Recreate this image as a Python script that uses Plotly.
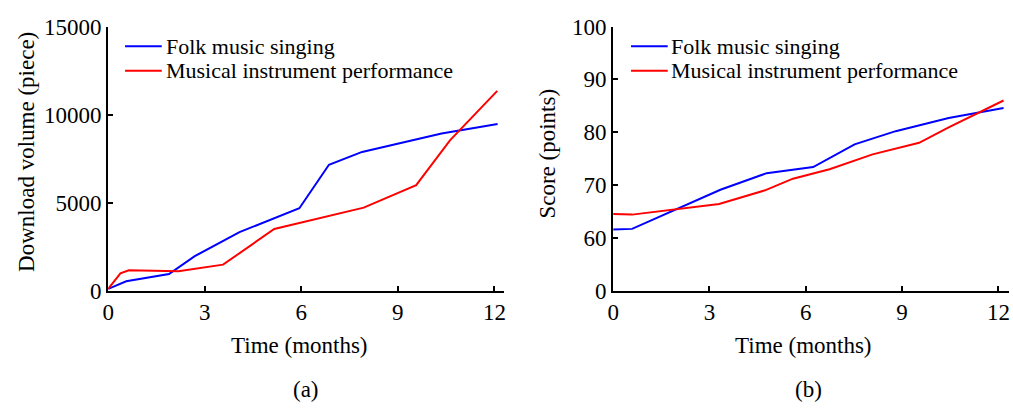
import plotly.graph_objects as go

# Panel (a): download volume (piece)
a_folk_x = [0, 0.56, 1.89, 2.69, 4.08, 5.94, 6.86, 7.89, 10.36, 12.1]
a_folk_y = [100, 534, 944, 1958, 3326, 4680, 7150, 7881, 8932, 9466]
a_inst_x = [0, 0.38, 0.64, 2.18, 3.57, 5.16, 7.94, 9.57, 10.62, 12.09]
a_inst_y = [100, 980, 1158, 1105, 1478, 3506, 4717, 5998, 8538, 11350]

# Panel (b): score (points)
b_folk_x = [0, 0.59, 3.34, 4.78, 6.23, 7.52, 8.8, 10.45, 12.16]
b_folk_y = [61.6, 61.7, 69.1, 72.25, 73.4, 77.7, 80.2, 82.7, 84.6]
b_inst_x = [0, 0.59, 3.3, 4.73, 5.6, 6.74, 8.08, 9.53, 10.45, 12.16]
b_inst_y = [64.5, 64.4, 66.4, 69.0, 71.2, 73.0, 75.8, 78.0, 80.9, 86.0]

x_ticks = [0, 3, 6, 9, 12]
a_y_tickvals = [0, 5000, 10000, 15000]
a_y_ticktext = ["0", "5000", "10000", "15000"]
b_y_tickvals = [50, 60, 70, 80, 90, 100]
b_y_ticktext = ["0", "60", "70", "80", "90", "100"]

names = ["Folk music singing", "Musical instrument performance"]
colors = ["#0000FF", "#FF0000"]
FONT = "Liberation Serif"
FS = 23
LFS = 22

W, H = 1013, 416

fig = go.Figure()
for i, (xs, ys) in enumerate([(a_folk_x, a_folk_y), (a_inst_x, a_inst_y)]):
    fig.add_trace(go.Scatter(x=xs, y=ys, mode="lines", name=names[i], showlegend=False,
                             line=dict(color=colors[i], width=2), xaxis="x", yaxis="y"))
for i, (xs, ys) in enumerate([(b_folk_x, b_folk_y), (b_inst_x, b_inst_y)]):
    fig.add_trace(go.Scatter(x=xs, y=ys, mode="lines", name=names[i], showlegend=False,
                             line=dict(color=colors[i], width=2), xaxis="x2", yaxis="y2"))

def px_x(p):
    return p / W

def px_y(p):
    return 1 - p / H

axis_common = dict(showgrid=False, zeroline=False, showline=True, linecolor="black", linewidth=2,
                   ticks="inside", ticklen=5, tickwidth=1.5, tickcolor="black",
                   tickfont=dict(family=FONT, size=FS, color="black"))

fig.update_layout(
    width=W, height=H,
    margin=dict(l=0, r=0, t=0, b=0),
    paper_bgcolor="white", plot_bgcolor="white",
    font=dict(family=FONT, size=FS, color="black"),
    showlegend=False,
    xaxis=dict(domain=[px_x(103), px_x(502)], range=[0, 12.3], tickvals=x_ticks,
               anchor="y", **axis_common),
    yaxis=dict(domain=[px_y(296.5), px_y(15.5)], range=[0, 15000], tickvals=a_y_tickvals,
               ticktext=a_y_ticktext, anchor="x", **axis_common),
    xaxis2=dict(domain=[px_x(612), px_x(1011)], range=[0, 12.33], tickvals=x_ticks,
                anchor="y2", **axis_common),
    yaxis2=dict(domain=[px_y(296.5), px_y(15.5)], range=[50, 100], tickvals=b_y_tickvals,
                ticktext=b_y_ticktext, anchor="x2", **axis_common),
)

# Legends (line sample + label) for each panel
legend_rows_y = [36.5, 62.5]
for line_x0, text_x in [(120, 160), (630, 669)]:
    for i, name in enumerate(names):
        yy = px_y(legend_rows_y[i])
        fig.add_shape(type="line", xref="paper", yref="paper",
                      x0=px_x(line_x0), x1=px_x(line_x0 + 37), y0=yy, y1=yy,
                      line=dict(color=colors[i], width=2))
        fig.add_annotation(xref="paper", yref="paper", showarrow=False, text=name,
                           x=px_x(text_x), y=yy, xanchor="left", yanchor="middle",
                           borderpad=0,
                           font=dict(family=FONT, size=LFS, color="black"))

annots = [
    dict(text="Time (months)", x=px_x(296), y=px_y(355)),
    dict(text="(a)", x=px_x(302), y=px_y(402)),
    dict(text="Time (months)", x=px_x(804), y=px_y(355)),
    dict(text="(b)", x=px_x(809), y=px_y(402)),
    dict(text="Download volume (piece)", x=px_x(20), y=px_y(149), textangle=-90),
    dict(text="Score (points)", x=px_x(546), y=px_y(151), textangle=-90),
]
for a in annots:
    fig.add_annotation(xref="paper", yref="paper", showarrow=False,
                       xanchor="center", yanchor="middle",
                       font=dict(family=FONT, size=FS, color="black"), **a)

fig.write_html("out.html")
